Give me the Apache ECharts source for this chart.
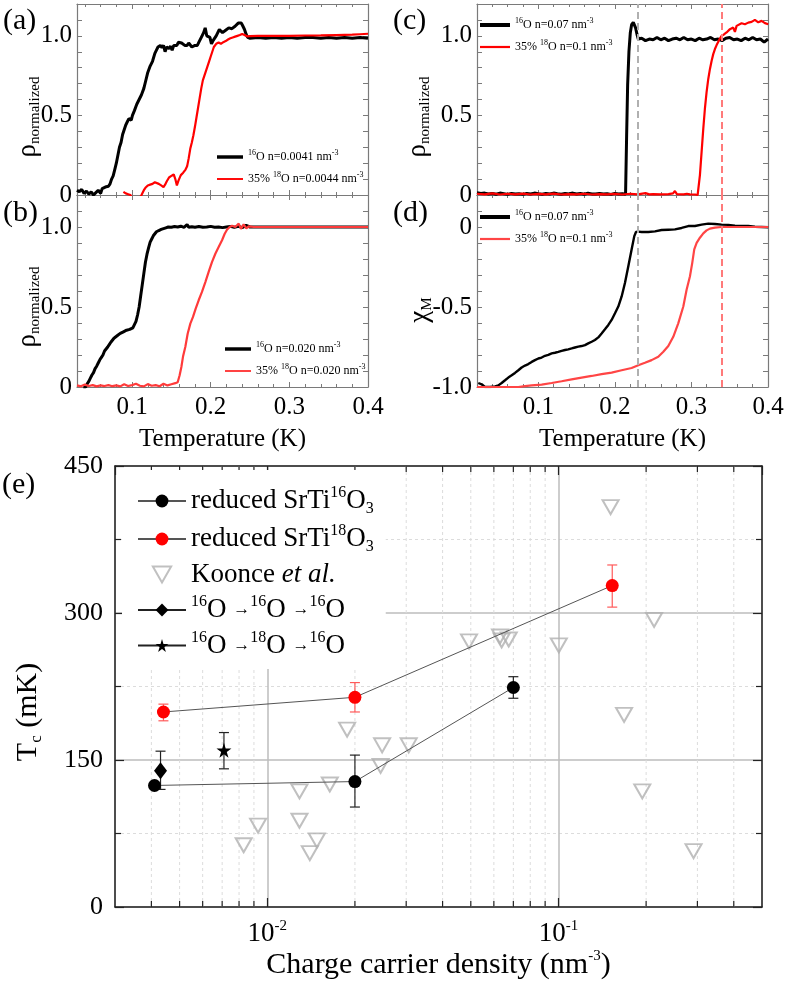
<!DOCTYPE html>
<html><head><meta charset="utf-8">
<script src="https://cdn.jsdelivr.net/npm/echarts@6/dist/echarts.min.js"></script>
<style>html,body{margin:0;padding:0;background:#fff}#c{width:787px;height:982px}</style>
</head><body><div id="c"></div>
<script>
// ---------------- DATA ----------------
// Panel (a): rho_normalized vs T (K)
const aBlack = [[0.030,0.03],[0.033,0.02],[0.036,0.035],[0.039,0.01],[0.042,0.025],[0.045,0.005],[0.048,0.02],[0.051,0.0],[0.054,0.015],[0.057,0.03],[0.060,0.01],[0.062,0.04],[0.064,0.035],[0.066,0.05],[0.068,0.06],[0.070,0.055],[0.072,0.07],[0.074,0.10],[0.076,0.12],[0.078,0.16],[0.080,0.20],[0.082,0.25],[0.084,0.30],[0.086,0.33],[0.088,0.38],[0.090,0.41],[0.092,0.44],[0.094,0.46],[0.096,0.48],[0.097,0.49],[0.099,0.47],[0.100,0.46],[0.1005,0.50],[0.103,0.53],[0.106,0.57],[0.109,0.60],[0.112,0.63],[0.115,0.67],[0.117,0.71],[0.120,0.77],[0.123,0.81],[0.126,0.84],[0.129,0.89],[0.131,0.91],[0.133,0.93],[0.136,0.94],[0.138,0.925],[0.140,0.94],[0.142,0.90],[0.144,0.93],[0.147,0.92],[0.149,0.935],[0.151,0.91],[0.153,0.94],[0.155,0.95],[0.157,0.94],[0.159,0.96],[0.161,0.95],[0.163,0.955],[0.165,0.95],[0.167,0.94],[0.170,0.94],[0.172,0.955],[0.174,0.95],[0.176,0.93],[0.178,0.92],[0.180,0.94],[0.183,0.94],[0.185,0.96],[0.187,0.97],[0.189,1.00],[0.191,1.02],[0.193,1.05],[0.195,1.00],[0.197,1.00],[0.199,0.99],[0.201,0.95],[0.203,0.97],[0.205,0.98],[0.207,1.00],[0.209,1.02],[0.211,1.04],[0.213,1.03],[0.215,1.02],[0.217,1.03],[0.219,1.035],[0.221,1.04],[0.223,1.05],[0.225,1.055],[0.227,1.045],[0.229,1.05],[0.231,1.06],[0.233,1.065],[0.235,1.08],[0.237,1.09],[0.239,1.08],[0.241,1.06],[0.243,1.04],[0.245,1.01],[0.247,0.99],[0.250,0.985],[0.260,0.99],[0.270,0.985],[0.280,0.99],[0.290,0.985],[0.300,0.99],[0.310,0.985],[0.320,0.99],[0.330,0.99],[0.340,0.985],[0.350,0.99],[0.360,0.985],[0.370,0.99],[0.380,0.985],[0.390,0.99],[0.400,0.985]];
const aRed = [[0.089,0.02],[0.092,0.01],[0.095,0.005],[0.098,0.0],[0.100,-0.02],[0.108,-0.03],[0.112,0.0],[0.115,0.03],[0.117,0.045],[0.120,0.06],[0.123,0.065],[0.126,0.07],[0.129,0.08],[0.131,0.075],[0.134,0.07],[0.137,0.06],[0.140,0.05],[0.142,0.065],[0.144,0.085],[0.147,0.11],[0.150,0.12],[0.153,0.13],[0.155,0.10],[0.157,0.06],[0.159,0.09],[0.162,0.125],[0.165,0.14],[0.168,0.16],[0.170,0.18],[0.172,0.23],[0.174,0.29],[0.176,0.33],[0.178,0.375],[0.180,0.43],[0.182,0.49],[0.184,0.55],[0.186,0.61],[0.188,0.67],[0.190,0.72],[0.192,0.75],[0.194,0.78],[0.196,0.81],[0.198,0.84],[0.200,0.87],[0.202,0.90],[0.204,0.93],[0.207,0.95],[0.210,0.958],[0.213,0.95],[0.216,0.96],[0.219,0.967],[0.222,0.977],[0.225,0.985],[0.228,0.99],[0.231,0.995],[0.234,1.0],[0.237,1.005],[0.240,1.012],[0.243,1.005],[0.246,0.997],[0.250,0.998],[0.260,1.0],[0.280,1.0],[0.300,1.0],[0.320,1.002],[0.340,1.003],[0.360,1.005],[0.380,1.007],[0.390,1.01],[0.400,1.013]];
// Panel (b)
const bBlack = [[0.038,0.0],[0.041,0.0],[0.043,0.02],[0.045,0.035],[0.047,0.055],[0.049,0.075],[0.051,0.09],[0.053,0.115],[0.055,0.13],[0.057,0.15],[0.059,0.17],[0.061,0.185],[0.063,0.20],[0.065,0.225],[0.067,0.235],[0.069,0.25],[0.071,0.265],[0.073,0.28],[0.075,0.29],[0.077,0.305],[0.079,0.31],[0.081,0.32],[0.083,0.33],[0.085,0.335],[0.087,0.345],[0.089,0.345],[0.091,0.35],[0.093,0.355],[0.095,0.355],[0.097,0.36],[0.099,0.36],[0.101,0.37],[0.103,0.38],[0.105,0.41],[0.107,0.45],[0.109,0.50],[0.111,0.57],[0.113,0.64],[0.115,0.71],[0.117,0.78],[0.119,0.83],[0.121,0.87],[0.123,0.905],[0.125,0.925],[0.127,0.945],[0.129,0.955],[0.131,0.97],[0.134,0.978],[0.137,0.985],[0.140,0.99],[0.143,0.995],[0.146,1.0],[0.150,0.998],[0.154,1.003],[0.158,1.0],[0.162,1.005],[0.166,0.998],[0.170,1.015],[0.172,0.998],[0.176,1.002],[0.180,0.998],[0.185,1.003],[0.190,0.998],[0.195,1.0],[0.200,1.004],[0.205,0.998],[0.210,1.0],[0.215,0.996],[0.220,1.0],[0.225,1.004],[0.230,0.998],[0.235,1.005],[0.240,0.996],[0.245,1.01],[0.250,1.0],[0.300,1.0],[0.350,1.0],[0.400,1.0]];
const bRed = [[0.030,0.01],[0.035,0.004],[0.040,0.015],[0.045,0.006],[0.050,0.012],[0.055,0.004],[0.060,0.01],[0.065,0.006],[0.070,0.012],[0.075,0.005],[0.080,0.01],[0.085,0.004],[0.090,0.017],[0.095,0.006],[0.100,0.012],[0.105,0.02],[0.110,0.008],[0.115,0.004],[0.120,0.018],[0.125,0.008],[0.130,0.012],[0.135,0.005],[0.140,0.02],[0.145,0.01],[0.150,0.017],[0.155,0.024],[0.158,0.03],[0.1605,0.073],[0.1627,0.125],[0.1648,0.19],[0.1677,0.25],[0.1707,0.333],[0.1741,0.396],[0.1775,0.438],[0.1809,0.49],[0.1847,0.542],[0.1889,0.594],[0.1932,0.656],[0.1974,0.719],[0.2016,0.781],[0.2059,0.833],[0.2101,0.875],[0.2144,0.917],[0.2178,0.958],[0.2207,0.983],[0.2241,1.0],[0.2271,1.008],[0.2313,1.0],[0.2356,1.021],[0.2385,0.988],[0.2419,1.017],[0.2453,0.992],[0.2483,1.004],[0.255,1.0],[0.300,1.0],[0.350,1.0],[0.400,1.0]];
// Panel (c)
const cBlack = [[0.020,0.015],[0.025,0.01],[0.030,0.012],[0.035,0.006],[0.040,0.01],[0.045,0.005],[0.050,0.012],[0.055,0.008],[0.060,0.004],[0.065,0.01],[0.070,0.006],[0.075,0.008],[0.080,0.004],[0.085,0.01],[0.090,0.006],[0.095,0.012],[0.100,0.008],[0.105,0.005],[0.110,0.01],[0.115,0.006],[0.120,0.012],[0.125,0.008],[0.130,0.005],[0.135,0.01],[0.140,0.007],[0.145,0.012],[0.150,0.006],[0.155,0.009],[0.160,0.005],[0.165,0.011],[0.170,0.007],[0.175,0.006],[0.180,0.01],[0.185,0.006],[0.190,0.008],[0.195,0.004],[0.200,0.01],[0.205,0.006],[0.210,0.008],[0.214,0.005],[0.2154,0.375],[0.2167,0.69],[0.2184,0.90],[0.2202,1.02],[0.2219,1.07],[0.2241,1.085],[0.2254,1.083],[0.2271,1.05],[0.2289,1.01],[0.2306,0.98],[0.2328,0.975],[0.235,0.985],[0.240,0.97],[0.245,0.98],[0.250,0.975],[0.255,0.99],[0.260,0.975],[0.265,0.985],[0.270,0.97],[0.275,0.98],[0.280,0.985],[0.285,0.975],[0.290,0.99],[0.295,0.975],[0.300,0.98],[0.305,0.97],[0.310,0.985],[0.315,0.975],[0.320,0.98],[0.325,0.99],[0.330,0.975],[0.335,0.98],[0.340,0.97],[0.345,0.985],[0.350,0.99],[0.355,0.975],[0.360,0.98],[0.365,0.97],[0.370,0.985],[0.375,0.975],[0.380,0.99],[0.385,0.975],[0.390,0.98],[0.395,0.96],[0.400,0.98]];
const cRed = [[0.020,0.008],[0.030,0.004],[0.040,0.01],[0.050,0.003],[0.060,0.008],[0.070,0.004],[0.080,0.009],[0.090,0.003],[0.100,0.007],[0.110,0.004],[0.120,0.009],[0.130,0.003],[0.140,0.006],[0.150,0.004],[0.160,0.008],[0.170,0.003],[0.180,0.006],[0.190,0.004],[0.200,0.007],[0.210,0.003],[0.220,0.008],[0.230,0.004],[0.240,0.012],[0.245,0.004],[0.250,0.006],[0.260,0.004],[0.270,0.006],[0.276,0.01],[0.2785,0.025],[0.281,0.006],[0.290,0.004],[0.294,0.008],[0.296,0.02],[0.298,0.004],[0.305,0.003],[0.3081,0.0],[0.3111,0.125],[0.3133,0.271],[0.3155,0.417],[0.3176,0.542],[0.3198,0.646],[0.3220,0.729],[0.3242,0.792],[0.3264,0.844],[0.3285,0.885],[0.3307,0.917],[0.3329,0.942],[0.3351,0.963],[0.3372,0.983],[0.3394,1.0],[0.3429,1.01],[0.3459,1.021],[0.3481,1.031],[0.3503,1.042],[0.3525,1.03],[0.3546,1.052],[0.3568,1.025],[0.3590,1.0625],[0.3612,1.073],[0.3655,1.079],[0.3699,1.073],[0.3742,1.083],[0.3786,1.0875],[0.3829,1.1],[0.3873,1.085],[0.3916,1.094],[0.3960,1.08],[0.4003,1.073]];
// Panel (d): chi_M
const dBlack = [[0.0217,-0.975],[0.0261,-0.983],[0.0304,-1.0],[0.0370,-1.0],[0.0435,-0.996],[0.0479,-0.990],[0.0522,-0.975],[0.0566,-0.958],[0.0609,-0.941],[0.0653,-0.927],[0.0696,-0.912],[0.0740,-0.895],[0.0783,-0.878],[0.0827,-0.866],[0.0870,-0.857],[0.0914,-0.843],[0.0957,-0.832],[0.1001,-0.822],[0.1044,-0.816],[0.1088,-0.805],[0.1131,-0.799],[0.1175,-0.790],[0.1218,-0.786],[0.1262,-0.780],[0.1305,-0.774],[0.1349,-0.769],[0.1392,-0.765],[0.1436,-0.759],[0.1479,-0.753],[0.1523,-0.748],[0.1566,-0.744],[0.1610,-0.738],[0.1653,-0.727],[0.1697,-0.717],[0.1740,-0.706],[0.1784,-0.690],[0.1827,-0.665],[0.1871,-0.639],[0.1915,-0.612],[0.1958,-0.581],[0.2002,-0.539],[0.2045,-0.497],[0.2089,-0.434],[0.2132,-0.350],[0.2176,-0.245],[0.2219,-0.140],[0.2254,-0.057],[0.2276,-0.031],[0.2306,-0.029],[0.2350,-0.031],[0.2437,-0.031],[0.2524,-0.027],[0.2611,-0.019],[0.2698,-0.017],[0.2785,-0.015],[0.2872,-0.006],[0.2959,0.006],[0.3046,0.006],[0.3133,0.015],[0.3220,0.021],[0.3307,0.019],[0.3394,0.015],[0.3481,0.013],[0.3568,0.008],[0.3655,0.006],[0.3742,0.006],[0.3829,0.002],[0.3916,0.0],[0.4003,-0.002]];
const dRed = [[0.020,-1.0],[0.0435,-1.0],[0.0609,-1.0],[0.0740,-1.0],[0.0827,-0.994],[0.0914,-0.990],[0.1044,-0.985],[0.1175,-0.975],[0.1305,-0.964],[0.1436,-0.952],[0.1566,-0.941],[0.1697,-0.931],[0.1827,-0.920],[0.1958,-0.910],[0.2089,-0.895],[0.2219,-0.881],[0.2306,-0.864],[0.2393,-0.849],[0.2480,-0.832],[0.2567,-0.811],[0.2633,-0.780],[0.2698,-0.744],[0.2763,-0.686],[0.2828,-0.602],[0.2894,-0.497],[0.2937,-0.392],[0.2981,-0.308],[0.3011,-0.224],[0.3037,-0.140],[0.3068,-0.099],[0.3111,-0.067],[0.3155,-0.040],[0.3198,-0.021],[0.3242,-0.010],[0.3307,-0.004],[0.3394,0.0],[0.3655,0.0],[0.4003,0.0]];
// Dashed reference temperatures in (c) and (d)
const tcMarks = [0.23, 0.335];

// Panel (e): Tc (mK) vs charge carrier density (nm^-3)
const black16N = [0.0041, 0.020, 0.070];
const black16Tc = [124, 128, 224];
const black16Err = [[null,null],[102,155],[213,235]];
const red18N = [0.0044, 0.020, 0.153];
const red18Tc = [199, 214, 328];
const red18Err = [[190,207],[199,229],[306,349]];
const diamondN = [0.0043];
const diamondTc = [139];
const diamondErr = [[120,159]];
const starN = [0.0071];
const starTc = [160];
const starErr = [[141,178]];
const koonceN = [0.0083,0.0093,0.0129,0.0129,0.0140,0.0148,0.0164,0.0188,0.0245,0.0248,0.0306,0.0493,0.0630,0.0638,0.0675,0.1003,0.151,0.168,0.194,0.213,0.291];
const koonceTc = [63,83,88,118,55,68,125,181,144,165,165,271,276,272,273,267,408,196,118,293,57];

// Tick labels
const rhoTicks = [0, 0.5, 1.0];
const rhoTickLabels = ['0', '0.5', '1.0'];
const chiTicks = [-1.0, -0.5, 0];
const chiTickLabels = ['-1.0', '-0.5', '0'];
const tcTicks = [0, 150, 300, 450];
const densityDecades = [0.01, 0.1];

// ---------------- BUILD ----------------
const FONT = "'Liberation Serif','DejaVu Serif',serif";
const AX = '#7a7a7a';
function zip(a, b) { return a.map((v, i) => [v, b[i]]); }

const grids = [
  {left: 77, top: 4, width: 291, height: 191},
  {left: 77, top: 195, width: 291, height: 192},
  {left: 477, top: 4, width: 291, height: 191},
  {left: 477, top: 195, width: 291, height: 192},
  {left: 115, top: 466, width: 647, height: 441}
].map(g => Object.assign({containLabel: false, outerBoundsMode: 'none', show: false}, g));

function labelFor(ticks, labels) {
  return v => { for (let i = 0; i < ticks.length; i++) if (Math.abs(v - ticks[i]) < 1e-6) return labels[i]; return ''; };
}
function panelX(gi, xmin, showLab, pos) {
  return {
    type: 'value', gridIndex: gi, min: xmin, max: 0.4, position: pos,
    axisLine: {show: true, onZero: false, lineStyle: {color: AX, width: 1.2}},
    axisTick: {show: true, inside: true, length: 5, lineStyle: {color: AX, width: 1}},
    minorTick: {show: true, splitNumber: 5, length: 3, lineStyle: {color: AX, width: 1}},
    splitLine: {show: false},
    axisLabel: {show: showLab, showMinLabel: false, margin: 8, fontSize: 25, fontFamily: FONT, color: '#000',
      formatter: v => v.toFixed(1)},
    name: showLab ? 'Temperature (K)' : '', nameLocation: 'middle', nameGap: 40,
    nameTextStyle: {fontSize: 25, fontFamily: FONT, color: '#000'}
  };
}
function panelY(gi, ymin, ymax, ticks, labels, pos) {
  return {
    type: 'value', gridIndex: gi, min: ymin, max: ymax, interval: 0.1, position: pos,
    axisLine: {show: true, onZero: false, lineStyle: {color: AX, width: 1.2}},
    axisTick: {show: true, inside: true, length: 5, lineStyle: {color: AX, width: 1}},
    splitLine: {show: false},
    axisLabel: {show: pos === 'left', margin: 5, fontSize: 25, fontFamily: FONT, color: '#000',
      formatter: labelFor(ticks, labels)}
  };
}

const xAxes = [
  panelX(0, 0.03, false, 'bottom'), panelX(0, 0.03, false, 'top'),
  panelX(1, 0.03, true, 'bottom'), panelX(1, 0.03, false, 'top'),
  panelX(2, 0.02, false, 'bottom'), panelX(2, 0.02, false, 'top'),
  panelX(3, 0.02, true, 'bottom'), panelX(3, 0.02, false, 'top')
];
const yAxes = [
  panelY(0, 0, 1.2, rhoTicks, rhoTickLabels, 'left'), panelY(0, 0, 1.2, rhoTicks, rhoTickLabels, 'right'),
  panelY(1, 0, 1.2, rhoTicks, rhoTickLabels, 'left'), panelY(1, 0, 1.2, rhoTicks, rhoTickLabels, 'right'),
  panelY(2, 0, 1.2, rhoTicks, rhoTickLabels, 'left'), panelY(2, 0, 1.2, rhoTicks, rhoTickLabels, 'right'),
  panelY(3, -1.0, 0.2, chiTicks, chiTickLabels, 'left'), panelY(3, -1.0, 0.2, chiTicks, chiTickLabels, 'right')
];

const richAx = {
  b: {fontSize: 27, fontFamily: FONT, color: '#000', lineHeight: 30},
  s: {fontSize: 15, fontFamily: FONT, color: '#000', lineHeight: 14, verticalAlign: 'top'},
  n: {fontSize: 30, fontFamily: FONT, color: '#000', lineHeight: 34}
};
const EMIN = 0.003, EMAX = 0.5, TCMIN = 0, TCMAX = 450;
function isDecade(v) { const l = Math.log10(v); return Math.abs(l - Math.round(l)) < 1e-6; }
xAxes.push({
  type: 'log', logBase: 10, gridIndex: 4, min: EMIN, max: EMAX, position: 'bottom',
  axisLine: {show: true, onZero: false, lineStyle: {color: '#222', width: 1.5}},
  axisTick: {show: true, inside: true, length: 9, lineStyle: {color: '#222', width: 1.2}},
  splitLine: {show: true, lineStyle: {color: '#bdbdbd', width: 1.5}},
  axisLabel: {showMinLabel: false, showMaxLabel: false, margin: 12, rich: richAx,
    formatter: v => isDecade(v) && densityDecades.some(d => Math.abs(d - v) / d < 1e-6) ? '{b|10}{s|' + Math.round(Math.log10(v)) + '}' : ''},
  name: '{n|Charge carrier density (nm}{s|-3}{n|)}', nameLocation: 'middle', nameGap: 40,
  nameTextStyle: {rich: richAx}
});
xAxes.push({
  type: 'log', logBase: 10, gridIndex: 4, min: EMIN, max: EMAX, position: 'top',
  axisLine: {show: true, onZero: false, lineStyle: {color: '#222', width: 1.5}},
  axisTick: {show: true, inside: true, length: 9, lineStyle: {color: '#222', width: 1.2}},
  splitLine: {show: false}, axisLabel: {show: false}
});
yAxes.push({
  type: 'value', gridIndex: 4, min: TCMIN, max: TCMAX, interval: 150, position: 'left',
  axisLine: {show: true, onZero: false, lineStyle: {color: '#222', width: 1.5}},
  axisTick: {show: true, inside: true, length: 9, lineStyle: {color: '#222', width: 1.2}},
  minorTick: {show: true, splitNumber: 2, length: 6, lineStyle: {color: '#222', width: 1.2}},
  splitLine: {show: true, lineStyle: {color: '#bdbdbd', width: 1.5}},
  minorSplitLine: {show: true, lineStyle: {color: '#dcdcdc', width: 1, type: [3, 3]}},
  axisLabel: {margin: 12, fontSize: 26, fontFamily: FONT, color: '#000', formatter: labelFor(tcTicks, tcTicks.map(String))}
});
yAxes.push({
  type: 'value', gridIndex: 4, min: TCMIN, max: TCMAX, interval: 150, position: 'right',
  axisLine: {show: true, onZero: false, lineStyle: {color: '#222', width: 1.5}},
  axisTick: {show: true, inside: true, length: 9, lineStyle: {color: '#222', width: 1.2}},
  minorTick: {show: true, splitNumber: 2, length: 6, lineStyle: {color: '#222', width: 1.2}},
  splitLine: {show: false}, axisLabel: {show: false}
});

// minor log positions for panel (e) grid lines / ticks (axis structure, 2..9 x decade)
const eMinorX = [];
[0.001, 0.01, 0.1].forEach(d => { for (let k = 2; k <= 9; k++) { const v = +(k * d).toPrecision(3); if (v > EMIN && v < EMAX) eMinorX.push(v); } });

function curve(name, data, gi, color, width) {
  return {name, type: 'line', xAxisIndex: 2 * gi, yAxisIndex: 2 * gi, data, symbol: 'none', showSymbol: false,
    lineStyle: {color, width}, itemStyle: {color}, clip: true, z: 3};
}
const dashedMarks = {
  symbol: 'none', silent: true, label: {show: false}, animation: false,
  lineStyle: {type: [7, 4], width: 2},
  data: [{xAxis: tcMarks[0], lineStyle: {color: '#b0b0b0'}}, {xAxis: tcMarks[1], lineStyle: {color: '#ff7a7a'}}]
};

function errRender(color) {
  return function (params, api) {
    const x = api.value(0), lo = api.value(1), hi = api.value(2);
    if (isNaN(lo) || isNaN(hi)) return null;
    const a = api.coord([x, lo]), b = api.coord([x, hi]);
    const st = {stroke: color, lineWidth: 1.2};
    return {type: 'group', children: [
      {type: 'line', shape: {x1: a[0], y1: a[1], x2: b[0], y2: b[1]}, style: st},
      {type: 'line', shape: {x1: a[0] - 5, y1: a[1], x2: a[0] + 5, y2: a[1]}, style: st},
      {type: 'line', shape: {x1: b[0] - 5, y1: b[1], x2: b[0] + 5, y2: b[1]}, style: st}
    ]};
  };
}
function errSeries(ns, errs, color) {
  return {type: 'custom', xAxisIndex: 8, yAxisIndex: 8, renderItem: errRender(color), z: 3, silent: true,
    encode: {x: 0, y: [1, 2]}, data: ns.map((n, i) => [n, errs[i][0] == null ? NaN : errs[i][0], errs[i][1] == null ? NaN : errs[i][1]])};
}
const STAR = 'path://M50,0 L61,35 L98,35 L68,57 L79,91 L50,70 L21,91 L32,57 L2,35 L39,35 Z';
const TRI_DOWN = 'path://M0,0 L16,0 L8,14 Z';

const series = [
  curve('a16', aBlack, 0, '#000', 3), curve('a18', aRed, 0, '#ff0000', 2.2),
  curve('b16', bBlack, 1, '#000', 3), curve('b18', bRed, 1, '#ff3a3a', 2.2),
  Object.assign(curve('c16', cBlack, 2, '#000', 3), {markLine: dashedMarks}), curve('c18', cRed, 2, '#ff0000', 2.2),
  Object.assign(curve('d16', dBlack, 3, '#000', 2.4), {markLine: dashedMarks}), curve('d18', dRed, 3, '#ff4545', 2.2),
  {type: 'custom', xAxisIndex: 8, yAxisIndex: 8, z: 1, silent: true, encode: {x: 0, y: 1},
    data: eMinorX.map(v => [v, TCMIN]),
    renderItem: function (params, api) {
      const v = api.value(0);
      const p0 = api.coord([v, TCMIN]), p1 = api.coord([v, TCMAX]);
      return {type: 'group', children: [
        {type: 'line', shape: {x1: p0[0], y1: p0[1], x2: p1[0], y2: p1[1]}, style: {stroke: '#dcdcdc', lineWidth: 1, lineDash: [3, 3]}},
        {type: 'line', shape: {x1: p0[0], y1: p0[1], x2: p0[0], y2: p0[1] - 6}, style: {stroke: '#222', lineWidth: 1.2}},
        {type: 'line', shape: {x1: p1[0], y1: p1[1], x2: p1[0], y2: p1[1] + 6}, style: {stroke: '#222', lineWidth: 1.2}}
      ]};
    }},
  {name: 'koonce', type: 'scatter', xAxisIndex: 8, yAxisIndex: 8, data: zip(koonceN, koonceTc), z: 3,
    symbol: 'triangle', symbolRotate: 180, symbolSize: [16, 14],
    itemStyle: {color: 'rgba(0,0,0,0)', borderColor: '#b0b0b0', borderWidth: 2}},
  errSeries(black16N, black16Err, '#222'),
  errSeries(red18N, red18Err, '#ff5a5a'),
  errSeries(diamondN, diamondErr, '#222'),
  errSeries(starN, starErr, '#222'),
  {name: 'bk16', type: 'line', xAxisIndex: 8, yAxisIndex: 8, data: zip(black16N, black16Tc), z: 4,
    symbol: 'circle', symbolSize: 13, lineStyle: {color: '#555', width: 1}, itemStyle: {color: '#000'}},
  {name: 'rd18', type: 'line', xAxisIndex: 8, yAxisIndex: 8, data: zip(red18N, red18Tc), z: 4,
    symbol: 'circle', symbolSize: 13, lineStyle: {color: '#555', width: 1}, itemStyle: {color: '#ff0000'}},
  {name: 'dia', type: 'line', xAxisIndex: 8, yAxisIndex: 8, data: zip(diamondN, diamondTc), z: 4,
    symbol: 'diamond', symbolSize: [13, 17], lineStyle: {color: '#222', width: 1}, itemStyle: {color: '#000'}},
  {name: 'star', type: 'line', xAxisIndex: 8, yAxisIndex: 8, data: zip(starN, starTc), z: 4,
    symbol: STAR, symbolSize: 15, lineStyle: {color: '#222', width: 1}, itemStyle: {color: '#000'}}
];

const LEG = {
  a16: '{s|16}{n|O n=0.0041 nm}{s|-3}', a18: '{n|35% }{s|18}{n|O n=0.0044 nm}{s|-3}',
  b16: '{s|16}{n|O n=0.020 nm}{s|-3}', b18: '{n|35% }{s|18}{n|O n=0.020 nm}{s|-3}',
  c16: '{s|16}{n|O n=0.07 nm}{s|-3}', c18: '{n|35% }{s|18}{n|O n=0.1 nm}{s|-3}',
  d16: '{s|16}{n|O n=0.07 nm}{s|-3}', d18: '{n|35% }{s|18}{n|O n=0.1 nm}{s|-3}',
  bk16: '{n|reduced SrTi}{sup|16}{n|O}{sub|3}', rd18: '{n|reduced SrTi}{sup|18}{n|O}{sub|3}',
  koonce: '{n|Koonce }{i|et al.}',
  dia: '{sup|16}{n|O }{ar|→}{sup|16}{n|O }{ar|→}{sup|16}{n|O}',
  star: '{sup|16}{n|O }{ar|→}{sup|18}{n|O }{ar|→}{sup|16}{n|O}'
};
const richP = {
  n: {fontSize: 12, fontFamily: FONT, color: '#000', lineHeight: 16},
  s: {fontSize: 8, fontFamily: FONT, color: '#000', lineHeight: 8, verticalAlign: 'top'}
};
const richE = {
  n: {fontSize: 27, fontFamily: FONT, color: '#000', lineHeight: 32},
  i: {fontSize: 27, fontFamily: FONT, fontStyle: 'italic', color: '#000', lineHeight: 32},
  sup: {fontSize: 16, fontFamily: FONT, color: '#000', lineHeight: 16, verticalAlign: 'top'},
  sub: {fontSize: 16, fontFamily: FONT, color: '#000', lineHeight: 12, verticalAlign: 'bottom'},
  ar: {fontSize: 17, fontFamily: FONT, color: '#000', lineHeight: 32}
};
const THICK = 'path://M0,0L30,0L30,4L0,4Z', THIN = 'path://M0,0L30,0L30,2.2L0,2.2Z';
function panelLegend(left, top, w, n16, n18) {
  return {left, top, orient: 'vertical', padding: 0, itemWidth: w, itemHeight: 14, itemGap: 8, selectedMode: false,
    symbolKeepAspect: true, data: [{name: n16, icon: THICK}, {name: n18, icon: THIN}],
    formatter: n => LEG[n], textStyle: {rich: richP}};
}
const legends = [
  panelLegend(217, 149, 26, 'a16', 'a18'),
  panelLegend(225, 341, 26, 'b16', 'b18'),
  panelLegend(480, 17, 30, 'c16', 'c18'),
  panelLegend(480, 209, 30, 'd16', 'd18'),
  {left: 122, top: 470, orient: 'vertical', padding: [15, 12, 10, 15], backgroundColor: '#fff',
    itemWidth: 48, itemHeight: 16, itemGap: 6, selectedMode: false, symbolKeepAspect: true,
    data: ['bk16', 'rd18',
      {name: 'koonce', icon: TRI_DOWN, itemStyle: {color: 'rgba(0,0,0,0)', borderColor: '#b0b0b0', borderWidth: 2}},
      'dia', 'star'],
    formatter: n => LEG[n], textStyle: {rich: richE}}
];

const titleStyle = {fontSize: 30, fontFamily: FONT, fontWeight: 'normal', color: '#000'};
const titles = [['(a)', 3, 6], ['(b)', 3, 198], ['(c)', 393, 6], ['(d)', 393, 198], ['(e)', 2, 470]]
  .map(t => ({text: t[0], left: t[1], top: t[2], padding: 0, textStyle: titleStyle}));

const richY = {
  r: {fontSize: 27, fontFamily: FONT, color: '#000', lineHeight: 30},
  s: {fontSize: 15, fontFamily: FONT, color: '#000', lineHeight: 14, verticalAlign: 'bottom'}
};
const richT = {
  r: {fontSize: 30, fontFamily: FONT, color: '#000', lineHeight: 34},
  s: {fontSize: 17, fontFamily: FONT, color: '#000', lineHeight: 14, verticalAlign: 'bottom'}
};
function vText(x, y, text, rich) {
  return {type: 'text', x, y, rotation: Math.PI / 2, silent: true,
    style: {text, rich, align: 'center', verticalAlign: 'middle', fill: '#000'}};
}
const graphics = [
  vText(28, 117, '{r|ρ}{s|normalized}', richY),
  vText(28, 307, '{r|ρ}{s|normalized}', richY),
  vText(418, 117, '{r|ρ}{s|normalized}', richY),
  vText(420, 310, '{r|χ}{s|M}', richY),
  vText(28, 712, '{r|T}{s|c}{r| (mK)}', richT)
];

const chart = echarts.init(document.getElementById('c'), null, {renderer: 'canvas'});
chart.setOption({
  animation: false, backgroundColor: '#fff',
  textStyle: {fontFamily: FONT},
  title: titles, grid: grids, xAxis: xAxes, yAxis: yAxes, legend: legends,
  series, graphic: graphics
});
</script></body></html>
